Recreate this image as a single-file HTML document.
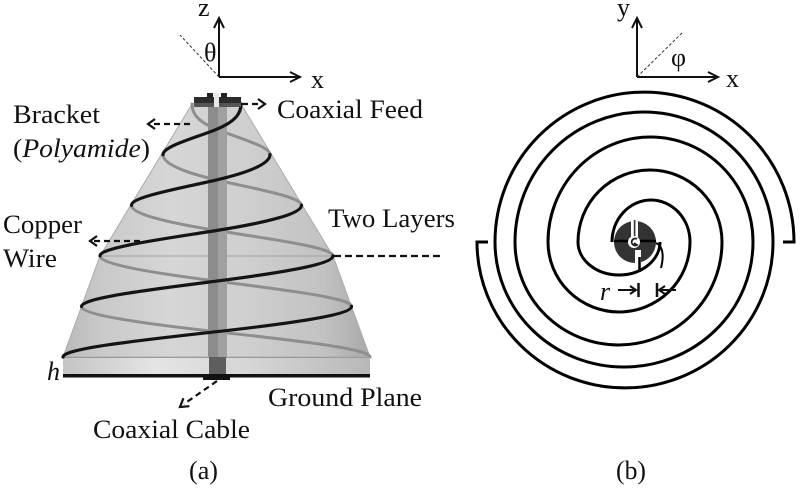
<!DOCTYPE html>
<html><head><meta charset="utf-8">
<style>html,body{margin:0;padding:0;background:#fff}svg{display:block}</style>
</head>
<body>
<svg width="800" height="489" viewBox="0 0 800 489" xmlns="http://www.w3.org/2000/svg" font-family="'Liberation Serif', serif">
<defs>
<linearGradient id="cone" gradientUnits="userSpaceOnUse" x1="63" y1="0" x2="370" y2="0">
<stop offset="0" stop-color="#b9b9b9"/>
<stop offset="0.12" stop-color="#c9c9c9"/>
<stop offset="0.35" stop-color="#d6d6d6"/>
<stop offset="0.6" stop-color="#cfcfcf"/>
<stop offset="0.85" stop-color="#c2c2c2"/>
<stop offset="1" stop-color="#a8a8a8"/>
</linearGradient>
<linearGradient id="base" gradientUnits="userSpaceOnUse" x1="63" y1="0" x2="370" y2="0">
<stop offset="0" stop-color="#c4c4c4"/>
<stop offset="0.3" stop-color="#e4e4e4"/>
<stop offset="0.6" stop-color="#d6d6d6"/>
<stop offset="1" stop-color="#b8b8b8"/>
</linearGradient>
</defs>
<rect width="800" height="489" fill="#fff"/>

<!-- ===== (a) cone ===== -->
<!-- axes -->
<g stroke="#111" stroke-width="2" fill="none">
<path d="M219,77 V19"/><polyline points="214,28 219,18 224,28"/>
<path d="M219,77 H299"/><polyline points="290,72 300,77 290,82"/>
</g>
<path d="M219,77 L180,35" stroke="#333" stroke-width="1" stroke-dasharray="3 2" fill="none"/>
<text x="198" y="16" font-size="26" fill="#111">z</text>
<text x="204" y="61" font-size="26" fill="#111">θ</text>
<text x="311" y="88" font-size="26" fill="#111">x</text>

<!-- cone body -->
<path d="M192,104 Q216.5,95 241,104 L333,256 L370,357 L63,357 L100,256 Z" fill="url(#cone)" stroke="#ababab" stroke-width="1"/>
<line x1="100" y1="256" x2="333" y2="256" stroke="#a0a0a0" stroke-width="1"/>

<!-- back helix segments (gray) -->
<g stroke="#8e8e8e" stroke-width="3" fill="none" stroke-linecap="round">
<path d="M192,104 C192,112.43 196.08,120.87 216.5,129.3 C236.92,137.73 270,146.17 270,154.6"/>
<path d="M163,154.6 C163,163.03 180.24,171.47 216.5,179.9 C252.76,188.33 301.5,196.77 301.5,205.2"/>
<path d="M131.5,205.2 C131.5,213.63 163.75,222.07 216.5,230.5 C269.25,238.93 333,247.37 333,255.8"/>
<path d="M100,255.8 C100,264.23 150.66,272.67 216.5,281.1 C282.34,289.53 351.5,297.97 351.5,306.4"/>
<path d="M81.5,306.4 C81.5,314.83 140.97,323.27 216.5,331.7 C292.03,340.13 370,348.57 370,357"/>
</g>

<!-- rod -->
<rect x="208" y="104" width="10" height="253" fill="#8c8c8c"/>
<rect x="218" y="104" width="9" height="253" fill="#a0a0a0"/>

<!-- base slab -->
<rect x="63" y="357" width="307" height="17" fill="url(#base)"/>
<line x1="63" y1="357.5" x2="370" y2="357.5" stroke="#9a9a9a" stroke-width="1"/>
<rect x="209" y="357" width="17" height="17" fill="#5e5e5e"/>
<rect x="63" y="374" width="307" height="3.5" fill="#111"/>
<rect x="203" y="374" width="27" height="6" fill="#111"/>

<!-- front helix segments (dark) -->
<g stroke="#141414" stroke-width="3.2" fill="none" stroke-linecap="round">
<path d="M241,104 C241,112.43 236.92,120.87 216.5,129.3 C196.08,137.73 163,146.17 163,154.6"/>
<path d="M270,154.6 C270,163.03 252.76,171.47 216.5,179.9 C180.24,188.33 131.5,196.77 131.5,205.2"/>
<path d="M301.5,205.2 C301.5,213.63 269.25,222.07 216.5,230.5 C163.75,238.93 100,247.37 100,255.8"/>
<path d="M333,255.8 C333,264.23 282.34,272.67 216.5,281.1 C150.66,289.53 81.5,297.97 81.5,306.4"/>
<path d="M351.5,306.4 C351.5,314.83 292.03,323.27 216.5,331.7 C140.97,340.13 63,348.57 63,357"/>
</g>

<!-- top feed -->
<rect x="194" y="97" width="47" height="10" fill="#2c2c2c"/>
<rect x="194" y="103" width="47" height="4" fill="#555"/>
<rect x="207" y="93" width="6" height="5" fill="#222"/>
<rect x="221" y="93" width="6" height="5" fill="#222"/>
<rect x="214" y="93" width="5" height="14" fill="#e8e8e8"/>

<!-- dashed pointer arrows -->
<g stroke="#111" stroke-width="2.2" fill="none">
<path d="M190,124 H152" stroke-dasharray="6 4"/><polyline points="155,119 148,124 155,129"/>
<path d="M242,104 H261" stroke-dasharray="6 4"/><polyline points="258,99 265,104 258,109"/>
<path d="M140,241 H94" stroke-dasharray="6 4"/><polyline points="97,236 90,241 97,246"/>
<path d="M334,256 H440" stroke-dasharray="7 4"/>
<path d="M217,381 L184,404" stroke-dasharray="6 4"/><polyline points="183.4,398.2 180,407 189.4,406.2"/>
</g>

<!-- labels (a) -->
<g font-size="26" fill="#111">
<text x="13" y="123" textLength="87" lengthAdjust="spacingAndGlyphs">Bracket</text>
<text x="13" y="157" textLength="137" lengthAdjust="spacingAndGlyphs">(<tspan font-style="italic">Polyamide</tspan>)</text>
<text x="277" y="118" textLength="146" lengthAdjust="spacingAndGlyphs">Coaxial Feed</text>
<text x="3" y="233" textLength="79" lengthAdjust="spacingAndGlyphs">Copper</text>
<text x="3" y="267" textLength="54" lengthAdjust="spacingAndGlyphs">Wire</text>
<text x="328" y="227" textLength="127" lengthAdjust="spacingAndGlyphs">Two Layers</text>
<text x="268" y="406" textLength="154" lengthAdjust="spacingAndGlyphs">Ground Plane</text>
<text x="93" y="438" textLength="157" lengthAdjust="spacingAndGlyphs">Coaxial Cable</text>
<text x="47" y="380" font-style="italic">h</text>
<text x="189" y="479" textLength="29" lengthAdjust="spacingAndGlyphs">(a)</text>
</g>

<!-- ===== (b) spiral ===== -->
<g stroke="#111" stroke-width="2" fill="none">
<path d="M637,77 V19"/><polyline points="632,28 637,18 642,28"/>
<path d="M637,77 H717"/><polyline points="708,72 718,77 708,82"/>
</g>
<path d="M637,77 L682,33" stroke="#333" stroke-width="1" stroke-dasharray="3 2" fill="none"/>
<text x="617" y="16" font-size="26" fill="#111">y</text>
<text x="726" y="87" font-size="26" fill="#111">x</text>
<text x="671" y="66" font-size="26" fill="#111">φ</text>

<g stroke="#000" stroke-width="3" fill="none">
<path d="M783,242 H794 A149.5,150 0 0 0 495,242 A129,125 0 0 0 753,242 A102.5,105 0 0 0 548,242 A71,70 0 0 0 690,242 A39,42 0 0 0 612,242"/>
<path d="M488,242 H477 A148,146 0 0 0 773,242 A129,130 0 0 0 515,242 A103.5,103 0 0 0 722,242 A72,72 0 0 0 578,242 A41,33 0 0 0 660,242"/>
</g>

<!-- feed disk -->
<circle cx="635" cy="242" r="21" fill="#333"/>
<rect x="631" y="220" width="7" height="17" fill="#fff"/>
<rect x="633.8" y="220" width="1.6" height="17" fill="#333"/>
<rect x="635" y="250" width="6" height="14" fill="#fff"/>
<line x1="614" y1="241" x2="656" y2="241" stroke="#000" stroke-width="2.5"/>
<circle cx="634" cy="242" r="6" fill="#fff"/>
<path d="M637,239 A3.5,3.5 0 1 0 637,245 L634,243" stroke="#222" stroke-width="1.8" fill="none"/>
<path d="M656,243 Q666,248 661,268" stroke="#000" stroke-width="2" fill="none"/>
<line x1="639.5" y1="257" x2="639.5" y2="272" stroke="#000" stroke-width="2.5"/>

<!-- r dimension -->
<g stroke="#111" stroke-width="2" fill="none">
<path d="M618,290 H634"/><polyline points="630,286 636,290 630,294"/>
<path d="M638.5,283 V297" stroke-width="2.5"/>
<path d="M657,283 V297" stroke-width="2.5"/>
<path d="M676,290 H661"/><polyline points="665,286 659,290 665,294"/>
</g>
<text x="600" y="300" font-size="26" font-style="italic" fill="#111">r</text>

<text x="616" y="479" font-size="26" fill="#111" textLength="30" lengthAdjust="spacingAndGlyphs">(b)</text>
</svg>
</body></html>
